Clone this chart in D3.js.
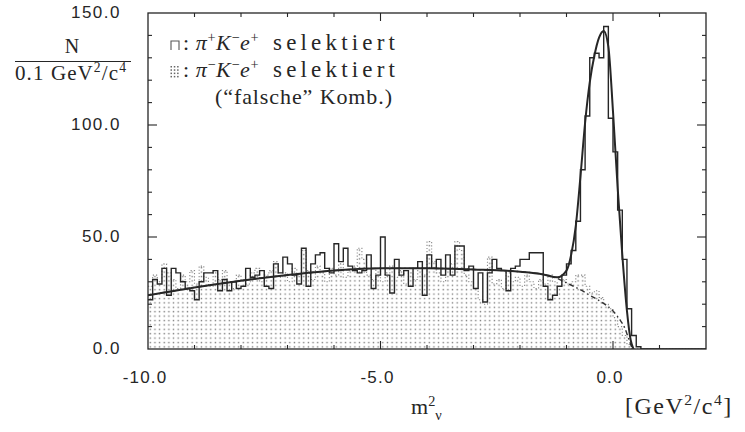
<!DOCTYPE html>
<html><head><meta charset="utf-8">
<script src="https://cdn.jsdelivr.net/npm/d3@7"></script>
<style>body{margin:0;background:#fff}svg{display:block}</style>
</head><body>
<svg id="c" width="745" height="432"></svg>
<script>
// ---- data ----
const binStart = -10.0, binWidth = 0.1;
// pi+ K- e+ selected (solid histogram), bins of 0.1 GeV^2 from -10.0
const selected = [22,31,29,36,24,36,34,30,27,26, 22,30,34,34,35,26,31,26,30,27,
  28,36,32,33,35,28,27,38,34,41, 38,33,29,45,28,38,42,43,36,34,
  47,39,45,37,35,34,35,42,27,33, 50,33,25,40,33,35,28,36,39,24,
  42,36,40,33,42,33,46,46,35,37, 27,34,21,34,40,36,35,26,36,37,
  40,40,43,43,43,28,22,24,28,33, 38,44,57,80,104,130,132,130,144,103,
  88,62,40,18,6,1,0,0,0,0, 0,0,0,0,0,0,0,0,0,0];
// pi- K- e+ selected ("falsche" Komb.), dotted histogram
const wrongSign = [28,33,30,38,34,31,27,33,30,35, 29,37,32,28,34,31,35,30,27,33,
  31,29,34,36,30,33,35,39,32,34, 30,36,33,44,35,31,37,34,30,36,
  33,38,32,35,37,45,40,33,31,36, 30,34,37,32,35,29,34,31,36,33,
  48,39,34,30,36,38,48,44,33,30, 27,22,20,41,29,31,27,34,30,32,
  28,33,30,27,31,29,33,30,28,31, 29,30,33,33,28,25,26,23,20,18,
  14,10,6,2,0,0,0,0,0,0, 0,0,0,0,0,0,0,0,0,0];
// fitted curves
const fitX     = [-10,-9,-8,-7,-6,-5,-4,-3,-2,-1.5,-1.2,-1.0,-0.9,-0.8,-0.7,-0.6,-0.5,-0.4,-0.3,-0.2,-0.1,0.0,0.1,0.2,0.3,0.38,0.44];
const fitTotal = [24,27.5,30.5,33,35,36,36,35.5,34.5,33.3,32,35,42,55,77,101,119,131,139,142,135,106,72,42,17,4,0];
const bgX   = [-10,-9,-8,-7,-6,-5,-4,-3,-2,-1.5,-1.2,-1.0,-0.75,-0.5,-0.25,0.0,0.15,0.25,0.33,0.38,0.42];
const bgFit = [24,27.5,30.5,33,35,36,36,35.5,34.5,33.3,31.5,29.5,27,24,21,17,13,9.5,5,2,0];
const xTickValues = [-10,-5,0];
const xTickLabels = ["-10.0","-5.0","0.0"];
const yTickValues = [0,50,100,150];
const yTickLabels = ["0.0","50.0","100.0","150.0"];

// ---- chart ----
const svg = d3.select("#c");
const X0 = 148, X1 = 706, Y0 = 349, Y1 = 13;
const x = d3.scaleLinear().domain([-10,2]).range([X0,X1]);
const y = d3.scaleLinear().domain([0,150]).range([Y0,Y1]);
const ink = "#262626";

const defs = svg.append("defs");
const pat = defs.append("pattern").attr("id","dots").attr("patternUnits","userSpaceOnUse")
  .attr("width",4.65).attr("height",4.4).attr("x",X0).attr("y",Y0);
pat.append("rect").attr("x",1.6).attr("y",1.6).attr("width",1.4).attr("height",1.4).attr("fill","#7c7c7c");
defs.append("clipPath").attr("id","plot").append("rect")
  .attr("x",X0).attr("y",Y1).attr("width",X1-X0).attr("height",Y0-Y1);

function stepPts(vals){
  const p = vals.map((v,i)=>[binStart+i*binWidth, v]);
  p.push([binStart+vals.length*binWidth, vals[vals.length-1]]);
  return p;
}
const g = svg.append("g").attr("clip-path","url(#plot)");

// dotted histogram fill + outline
g.append("path").datum(stepPts(wrongSign))
  .attr("d", d3.area().x(d=>x(d[0])).y0(y(0)).y1(d=>y(d[1])).curve(d3.curveStepAfter))
  .attr("fill","url(#dots)");
g.append("path").datum(stepPts(wrongSign))
  .attr("d", d3.line().x(d=>x(d[0])).y(d=>y(d[1])).curve(d3.curveStepAfter))
  .attr("fill","none").attr("stroke","#888").attr("stroke-width",1.1).attr("stroke-dasharray","1.2,2");

// background fit (dash-dot)
g.append("path").datum(bgX.map((v,i)=>[v,bgFit[i]]))
  .attr("d", d3.line().x(d=>x(d[0])).y(d=>y(d[1])).curve(d3.curveMonotoneX))
  .attr("fill","none").attr("stroke","#333").attr("stroke-width",1.4).attr("stroke-dasharray","5,3,1.5,3");

// solid histogram
g.append("path").datum(stepPts(selected))
  .attr("d", d3.line().x(d=>x(d[0])).y(d=>y(d[1])).curve(d3.curveStepAfter))
  .attr("fill","none").attr("stroke",ink).attr("stroke-width",1.4);

// total fit
g.append("path").datum(fitX.map((v,i)=>[v,fitTotal[i]]))
  .attr("d", d3.line().x(d=>x(d[0])).y(d=>y(d[1])).curve(d3.curveMonotoneX))
  .attr("fill","none").attr("stroke",ink).attr("stroke-width",2);

// frame
svg.append("rect").attr("x",X0).attr("y",Y1).attr("width",X1-X0).attr("height",Y0-Y1)
  .attr("fill","none").attr("stroke",ink).attr("stroke-width",1.3);

// ticks (inward, all four sides)
d3.range(-9,2,1).forEach(v=>{
  const L = (v%5===0)?8:4;
  svg.append("line").attr("x1",x(v)).attr("x2",x(v)).attr("y1",Y0).attr("y2",Y0-L).attr("stroke",ink).attr("stroke-width",1.1);
  svg.append("line").attr("x1",x(v)).attr("x2",x(v)).attr("y1",Y1).attr("y2",Y1+L).attr("stroke",ink).attr("stroke-width",1.1);
});
d3.range(10,150,10).forEach(v=>{
  const L = (v%50===0)?9:4;
  svg.append("line").attr("x1",X0).attr("x2",X0+L).attr("y1",y(v)).attr("y2",y(v)).attr("stroke",ink).attr("stroke-width",1.1);
  svg.append("line").attr("x1",X1).attr("x2",X1-L).attr("y1",y(v)).attr("y2",y(v)).attr("stroke",ink).attr("stroke-width",1.1);
});

// tick labels
const sans = "'Liberation Sans', Arial, sans-serif";
const serif = "'Liberation Serif', 'Times New Roman', serif";
xTickValues.forEach((v,i)=>{
  svg.append("text").attr("x",x(v)-3).attr("y",383).attr("text-anchor","middle")
    .attr("font-family",sans).attr("font-size",17).attr("letter-spacing",1.2).attr("fill",ink).text(xTickLabels[i]);
});
yTickValues.forEach((v,i)=>{
  svg.append("text").attr("x",121).attr("y",y(v)+5).attr("text-anchor","end")
    .attr("font-family",sans).attr("font-size",17).attr("letter-spacing",1.5).attr("fill",ink).text(yTickLabels[i]);
});

// rich text helper
function rich(xp, yp, parts, size, ls){
  const t = svg.append("text").attr("x",xp).attr("y",yp).attr("font-family",serif)
    .attr("font-size",size).attr("fill",ink).attr("letter-spacing",ls||0);
  let cur = 0;
  parts.forEach(p=>{
    const s = t.append("tspan").text(p.t);
    let off = p.sup ? -size*0.38 : (p.sub ? size*0.25 : 0);
    s.attr("dy", off-cur); cur = off;
    if (p.sup || p.sub) s.attr("font-size", size*0.65);
    if (p.it) s.attr("font-style","italic");
  });
  return t;
}

// y-axis title
svg.append("text").attr("x",72).attr("y",53).attr("text-anchor","middle")
  .attr("font-family",serif).attr("font-size",20).attr("fill",ink).text("N");
svg.append("line").attr("x1",15).attr("x2",131).attr("y1",61.5).attr("y2",61.5).attr("stroke",ink).attr("stroke-width",1);
rich(15,80,[{t:"0.1 GeV"},{t:"2",sup:1},{t:"/c"},{t:"4",sup:1}],21,1.1);

// x-axis title
rich(411,414,[{t:"m"},{t:"2",sup:1},{t:"ν",sub:1}],22);
rich(625,414,[{t:"[GeV"},{t:"2",sup:1},{t:"/c"},{t:"4",sup:1},{t:"]"}],24,1.5);

// legend
svg.append("path").attr("d","M171,50V41H179V50").attr("fill","none").attr("stroke","#555").attr("stroke-width",1.1);
rich(183,50,[{t:": "},{t:"π",it:1},{t:"+",sup:1},{t:"K",it:1},{t:"−",sup:1},{t:"e",it:1},{t:"+",sup:1}],22,0.6);
svg.append("text").attr("x",273).attr("y",50).attr("font-family",serif)
  .attr("font-size",23).attr("fill",ink).attr("textLength",122).attr("lengthAdjust","spacing").text("selektiert");
for (let c=0;c<3;c++) for (let r=0;r<4;r++)
  svg.append("rect").attr("x",170.5+c*3.3).attr("y",66+r*3.3).attr("width",1.5).attr("height",1.5).attr("fill","#666");
rich(183,77,[{t:": "},{t:"π",it:1},{t:"−",sup:1},{t:"K",it:1},{t:"−",sup:1},{t:"e",it:1},{t:"+",sup:1}],22,0.6);
svg.append("text").attr("x",273).attr("y",77).attr("font-family",serif)
  .attr("font-size",23).attr("fill",ink).attr("textLength",122).attr("lengthAdjust","spacing").text("selektiert");
svg.append("text").attr("x",215).attr("y",104).attr("font-family",serif)
  .attr("font-size",22).attr("fill",ink).attr("textLength",177).attr("lengthAdjust","spacing").text("(“falsche” Komb.)");
</script>
</body></html>
